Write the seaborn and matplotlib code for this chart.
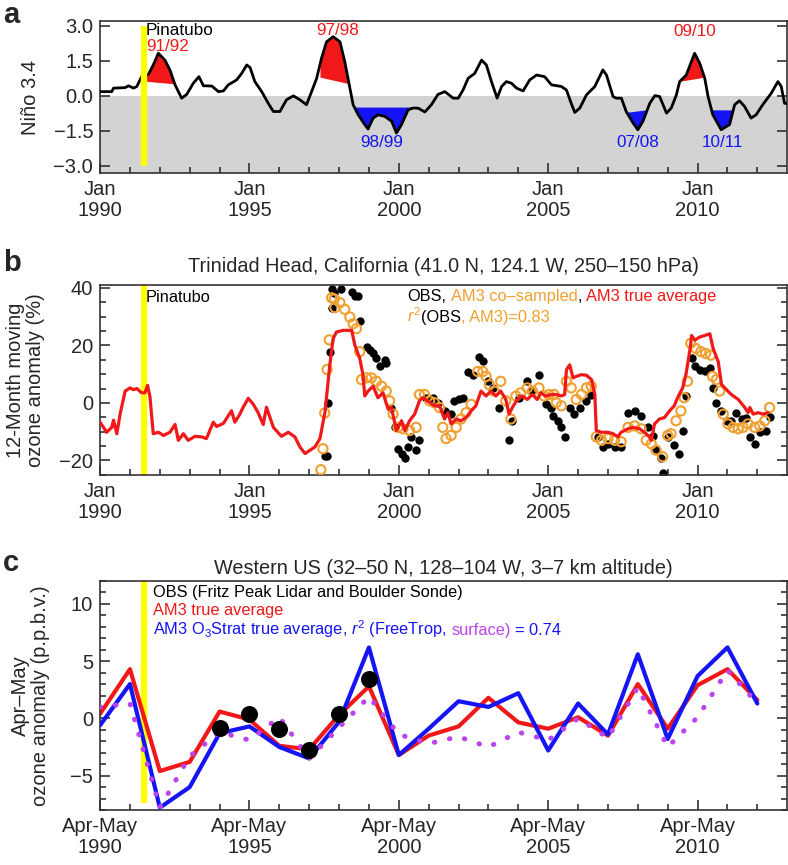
"""
ENSO / Pinatubo ozone anomalies - three stacked panels (a: Nino 3.4, b: Trinidad Head, c: Western US)
"""
import numpy as np
import pandas as pd
import matplotlib
matplotlib.use("Agg")
import matplotlib.pyplot as plt
import seaborn as sns

# ---------------- data ----------------
PINATUBO = 1991.47

# a. Nino 3.4 index
nino_year = [1990.00, 1990.39, 1990.45, 1990.84, 1990.95, 1991.12, 1991.23, 1991.39, 1991.55, 1991.62,
             1991.78, 1991.95, 1992.17, 1992.34, 1992.51, 1992.73, 1992.90, 1993.12, 1993.31, 1993.46,
             1993.74, 1993.96, 1994.13, 1994.29, 1994.57, 1994.74, 1994.91, 1995.02, 1995.18, 1995.41,
             1995.63, 1995.80, 1996.02, 1996.24, 1996.47, 1996.69, 1996.91, 1997.08, 1997.25, 1997.41,
             1997.58, 1997.80, 1998.03, 1998.19, 1998.33, 1998.47, 1998.64, 1998.86, 1998.97, 1999.14,
             1999.31, 1999.53, 1999.76, 1999.92, 2000.09, 2000.31, 2000.48, 2000.65, 2000.87, 2001.09,
             2001.31, 2001.54, 2001.82, 2001.99, 2002.15, 2002.32, 2002.54, 2002.77, 2002.93, 2003.10,
             2003.29, 2003.44, 2003.60, 2003.77, 2003.94, 2004.16, 2004.38, 2004.61, 2004.88, 2005.11,
             2005.44, 2005.61, 2005.77, 2005.89, 2006.06, 2006.28, 2006.56, 2006.72, 2006.83, 2006.95,
             2007.17, 2007.28, 2007.45, 2007.61, 2007.84, 2008.00, 2008.17, 2008.40, 2008.57, 2008.73,
             2008.96, 2009.12, 2009.29, 2009.40, 2009.62, 2009.90, 2010.07, 2010.24, 2010.35, 2010.51,
             2010.79, 2011.07, 2011.24, 2011.40, 2011.57, 2011.79, 2011.96, 2012.18, 2012.46, 2012.69,
             2012.80, 2012.91, 2012.98]
nino_val = [0.18, 0.18, 0.33, 0.35, 0.43, 0.33, 0.40, 0.82, 0.88, 0.92,
            1.32, 1.82, 1.53, 1.10, 0.47, -0.10, 0.06, 0.54, 0.82, 0.43,
            0.42, 0.18, 0.21, 0.47, 0.68, 0.96, 1.32, 1.21, 0.61, 0.18,
            -0.32, -0.67, -0.67, -0.17, 0.00, -0.17, -0.38, 0.18, 0.75, 1.60,
            2.31, 2.53, 2.31, 1.46, 0.54, -0.38, -0.81, -1.23, -1.42, -0.95,
            -0.81, -0.88, -1.09, -1.59, -1.23, -0.60, -0.52, -0.53, -0.69, -0.38,
            0.06, 0.18, -0.10, -0.10, 0.25, 0.75, 0.96, 1.53, 1.32, 0.61,
            -0.10, 0.40, 0.61, 0.54, 0.33, 0.21, 0.68, 0.89, 0.82, 0.47,
            0.40, 0.25, -0.32, -0.71, -0.52, 0.04, 0.40, 0.82, 1.11, 0.89,
            -0.03, -0.10, -0.10, -0.67, -1.16, -1.45, -1.09, -0.32, 0.01, -0.03,
            -0.74, -0.52, 0.04, 0.61, 0.89, 1.82, 1.40, 0.75, -0.03, -0.81,
            -1.45, -1.23, -0.38, -0.21, -0.45, -0.95, -0.81, -0.38, 0.10, 0.61,
            0.40, -0.32, -0.32]

# ENSO events: label, start, end, chord value at start, chord value at end, kind
event_label = ["91/92", "97/98", "98/99", "07/08", "09/10", "10/11"]
event_start = [1991.55, 1997.36, 1998.47, 2007.64, 2009.38, 2010.44]
event_end = [1992.45, 1998.33, 2000.70, 2008.28, 2010.24, 2011.22]
event_base0 = [0.62, 0.80, -0.48, -0.70, 0.62, -0.60]
event_base1 = [0.52, 0.52, -0.48, -0.60, 0.80, -0.60]
event_kind = ["nino", "nino", "nina", "nina", "nino", "nina"]
event_text_x = [1991.55, 1997.95, 1999.42, 2007.99, 2009.90, 2010.83]
event_text_y = [2.1, 2.8, -2.0, -2.0, 2.75, -2.0]

# b. Trinidad Head ozonesonde anomalies (%)
am3_year = [1990.00, 1990.22, 1990.39, 1990.45, 1990.56, 1990.67, 1990.84, 1991.00, 1991.12, 1991.23,
            1991.39, 1991.50, 1991.59, 1991.67, 1991.78, 1991.95, 1992.12, 1992.34, 1992.51, 1992.62,
            1992.79, 1992.95, 1993.18, 1993.40, 1993.56, 1993.79, 1993.90, 1994.13, 1994.40, 1994.51,
            1994.68, 1994.79, 1994.96, 1995.13, 1995.29, 1995.46, 1995.57, 1995.80, 1996.07, 1996.30,
            1996.52, 1996.69, 1996.86, 1997.19, 1997.36, 1997.53, 1997.69, 1997.80, 1997.91, 1998.14,
            1998.42, 1998.53, 1998.69, 1998.80, 1998.86, 1998.97, 1999.14, 1999.30, 1999.47, 1999.64,
            1999.75, 1999.92, 2000.09, 2000.20, 2000.36, 2000.53, 2000.69, 2000.80, 2000.97, 2001.19,
            2001.36, 2001.53, 2001.64, 2001.75, 2001.92, 2002.08, 2002.25, 2002.42, 2002.58, 2002.75,
            2002.92, 2003.08, 2003.25, 2003.41, 2003.58, 2003.69, 2003.80, 2003.97, 2004.13, 2004.30,
            2004.47, 2004.63, 2004.75, 2004.91, 2005.13, 2005.27, 2005.44, 2005.55, 2005.61, 2005.72,
            2005.83, 2005.94, 2006.11, 2006.28, 2006.45, 2006.56, 2006.61, 2006.78, 2007.00, 2007.17,
            2007.33, 2007.44, 2007.67, 2007.83, 2008.06, 2008.22, 2008.39, 2008.45, 2008.56, 2008.72,
            2008.89, 2009.06, 2009.22, 2009.33, 2009.50, 2009.61, 2009.75, 2009.80, 2009.91, 2010.07,
            2010.24, 2010.41, 2010.52, 2010.69, 2010.80, 2010.91, 2011.13, 2011.36, 2011.58, 2011.69,
            2011.75, 2011.86, 2012.03, 2012.19, 2012.36]
am3_val = [-6.7, -10.2, -8.5, -6.0, -10.7, -3.9, 4.1, 5.2, 4.6, 5.0,
           3.5, 3.5, 6.1, 2.1, -10.7, -10.2, -11.3, -10.2, -7.5, -13.0,
           -10.7, -13.0, -11.6, -11.8, -12.4, -6.7, -8.2, -7.1, -2.7, -6.7,
           -3.9, -1.5, 1.6, -0.5, -3.4, -7.5, -1.5, -8.5, -11.6, -10.2,
           -11.8, -15.3, -17.6, -15.3, -12.4, -3.0, 13.2, 22.3, 24.6, 25.2,
           25.2, 20.0, 15.5, 9.8, 2.4, 4.1, 5.8, 1.8, 3.5, -2.1,
           -1.6, -9.6, -6.2, -9.6, -6.2, -3.9, 0.7, 1.8, 0.7, -1.0,
           -1.0, -5.6, -3.4, -7.3, -5.6, -6.2, -5.1, -2.8, -1.0, 4.1,
           2.4, 4.1, 2.4, 4.1, 1.2, -3.9, -1.6, 1.2, 2.4, 1.2,
           2.9, 1.2, 3.5, 2.4, 2.9, 2.9, 2.4, 2.9, 11.5, 13.2,
           8.7, 9.2, 9.8, 9.6, 8.1, 2.9, -9.6, -10.2, -10.2, -10.7,
           -11.8, -10.2, -9.0, -8.5, -9.0, -10.2, -11.8, -13.0, -7.3, -5.6,
           -5.1, -2.8, -1.0, 1.8, 5.2, 9.8, 18.9, 23.4, 21.8, 22.9,
           23.4, 24.0, 18.9, 14.4, 6.4, 5.2, 2.9, 1.2, -1.6, -3.4,
           -1.6, -3.9, -3.4, -3.9, -3.4]

obs_year = [1997.52, 1997.59, 1997.64, 1997.69, 1997.75, 1997.77, 1997.84, 1998.08, 1998.42, 1998.53,
            1998.64, 1998.69, 1998.92, 1999.03, 1999.14, 1999.25, 1999.36, 1999.53, 1999.58, 1999.75,
            1999.86, 1999.97, 2000.09, 2000.20, 2000.31, 2000.42, 2000.58, 2000.69, 2000.92, 2001.14,
            2001.30, 2001.53, 2001.75, 2001.86, 2002.03, 2002.14, 2002.31, 2002.47, 2002.70, 2002.81,
            2002.97, 2003.14, 2003.36, 2003.69, 2003.80, 2004.02, 2004.30, 2004.47, 2004.69, 2004.91,
            2005.08, 2005.16, 2005.33, 2005.44, 2005.55, 2005.72, 2005.88, 2006.05, 2006.28, 2006.44,
            2006.66, 2006.83, 2007.00, 2007.22, 2007.44, 2007.67, 2007.89, 2008.11, 2008.33, 2008.50,
            2008.61, 2008.78, 2008.83, 2009.00, 2009.22, 2009.39, 2009.50, 2009.61, 2009.80, 2009.91,
            2010.07, 2010.24, 2010.41, 2010.52, 2010.63, 2010.80, 2010.97, 2011.13, 2011.30, 2011.47,
            2011.63, 2011.75, 2011.91, 2012.08, 2012.30, 2012.41]
obs_val = [-18.4, -18.5, 0.0, 17.6, 39.4, 32.8, 38.3, 39.4, 38.5, 37.1,
           37.1, 28.6, 19.5, 18.4, 17.2, 15.5, 12.7, 15.0, 13.8, -1.6,
           -8.5, -15.9, -17.6, -19.3, -15.3, -11.8, -16.4, -13.0, 1.8, 1.8,
           0.1, -2.8, -3.9, 0.7, 1.2, 1.8, 10.9, 9.8, 16.1, 14.4,
           7.5, 5.2, -1.6, -13.0, -6.2, 1.8, 7.5, 4.1, 9.8, -0.3,
           -1.6, -4.4, -6.2, -8.5, -11.8, -1.6, -3.9, -1.6, 0.7, 2.9,
           -11.8, -15.3, -14.2, -15.3, -15.3, -3.4, -2.8, -4.4, -8.5, -11.4,
           -15.9, -19.3, -24.4, -11.8, -14.7, -17.6, -9.6, 2.4, 15.5, 12.7,
           11.5, 11.2, 12.0, 5.2, 0.1, -2.8, -6.2, -6.2, -3.4, -5.6,
           -5.1, -11.8, -14.2, -10.2, -9.6, -4.8]

cos_year = [1997.39, 1997.46, 1997.52, 1997.60, 1997.67, 1997.75, 1997.84, 1997.86, 1998.03, 1998.19,
            1998.36, 1998.47, 1998.58, 1998.69, 1998.75, 1998.92, 1999.08, 1999.25, 1999.42, 1999.58,
            1999.69, 1999.81, 1999.97, 2000.14, 2000.36, 2000.58, 2000.69, 2000.86, 2001.03, 2001.19,
            2001.36, 2001.47, 2001.58, 2001.75, 2001.92, 2002.08, 2002.25, 2002.42, 2002.64, 2002.81,
            2002.92, 2003.03, 2003.19, 2003.41, 2003.58, 2003.75, 2003.92, 2004.08, 2004.30, 2004.47,
            2004.69, 2004.86, 2005.02, 2005.19, 2005.27, 2005.44, 2005.61, 2005.77, 2005.94, 2006.11,
            2006.28, 2006.44, 2006.61, 2006.78, 2007.00, 2007.22, 2007.44, 2007.67, 2007.89, 2008.11,
            2008.28, 2008.45, 2008.61, 2008.83, 2009.00, 2009.11, 2009.28, 2009.44, 2009.55, 2009.66,
            2009.77, 2009.94, 2010.11, 2010.27, 2010.44, 2010.50, 2010.63, 2010.74, 2010.86, 2011.02,
            2011.19, 2011.36, 2011.52, 2011.69, 2011.91, 2012.08, 2012.25, 2012.41]
cos_val = [-23.2, -15.9, -3.5, 11.6, 21.9, 36.5, 36.1, 33.1, 34.8, 32.5,
           29.8, 27.5, 25.8, 17.8, 8.1, 8.7, 8.7, 7.5, 5.8, 4.1,
           0.7, -3.9, -8.5, -9.0, -9.6, -8.5, 2.9, 2.9, 0.7, 0.1,
           -1.6, -8.5, -12.4, -11.3, -8.5, -5.6, -3.4, -0.5, 10.9, 10.9,
           9.2, 6.3, 4.1, 7.5, 0.7, -5.6, 2.4, 3.5, 5.2, 4.1,
           5.2, 2.4, 2.9, 2.9, 0.1, -1.0, 7.5, 5.2, 1.2, 2.9,
           5.2, 5.8, -11.8, -13.0, -12.4, -13.0, -13.5, -8.5, -8.0, -9.0,
           -13.0, -14.2, -16.4, -18.7, -11.3, -10.7, -6.2, -2.8, 1.8, 7.5,
           20.7, 18.9, 17.8, 17.2, 16.6, 9.2, 8.1, 4.1, -3.9, -7.3,
           -8.5, -9.0, -8.5, -7.3, -8.5, -8.0, -6.2, -1.6]

# c. Western US, Apr-May means (ppbv)
c_year = list(range(1990, 2013))
c_am3 = [0.4, 4.3, -4.6, -3.8, 0.6, -0.1, -2.4, -2.7, 0.3, 2.8, -3.2, -1.5, -0.7, 1.8, -0.35, -0.9,
         0.1, -1.5, 3.0, -0.9, 2.9, 4.3, 1.6]
c_strat = [-0.6, 3.0, -7.8, -6.0, -1.3, -0.7, -2.5, -3.5, -0.3, 6.2, -3.2, -0.9, 1.5, 1.0, 2.2, -2.8,
           1.3, -1.4, 5.6, -1.8, 3.7, 6.2, 1.3]
c_surface = [1.0, 1.3, -7.8, -3.3, -1.2, -1.9, 0.1, -3.5, -0.8, 1.9, -1.4, -2.2, -1.6, -2.5, -1.2, -1.9,
             0.0, -1.7, 2.7, -2.5, 0.1, 4.2, 1.3]
c_obs_year = [1994, 1995, 1996, 1997, 1998, 1999]
c_obs = [-0.8, 0.4, -0.9, -2.8, 0.4, 3.4]

major_years = [1990, 1995, 2000, 2005, 2010]

# ---------------- style ----------------
RED = "#f01818"
BLUE = "#1414f5"
ORANGE = "#f0a030"
MAGENTA = "#bb44ee"
YELLOW = "#ffff00"
FS_TICK = 14.5
FS_TITLE = 14.3
FS_TXT = 11.8

sns.set_theme(style="ticks")
plt.rcParams["font.family"] = ["Liberation Sans", "DejaVu Sans"]
plt.rcParams["mathtext.fontset"] = "custom"
plt.rcParams["mathtext.rm"] = "Liberation Sans"
plt.rcParams["mathtext.it"] = "Liberation Sans:italic"
plt.rcParams["mathtext.default"] = "regular"
plt.rcParams["axes.unicode_minus"] = True

fig = plt.figure(figsize=(7.88, 8.65), dpi=100)
ax_a = fig.add_axes([0.127, 0.800, 0.872, 0.1757])
ax_b = fig.add_axes([0.127, 0.451, 0.872, 0.2197])
ax_c = fig.add_axes([0.127, 0.0636, 0.872, 0.2647])


def style_axis(ax, prefix, ymajor, yminor=None):
    ax.set_xlim(1990, 2013)
    ax.set_xticks(major_years)
    ax.set_xticklabels([f"{prefix}\n{y}" for y in major_years], linespacing=1.15)
    ax.set_xticks(range(1990, 2013), minor=True)
    ax.set_yticks(ymajor)
    if yminor is not None:
        ax.set_yticks(yminor, minor=True)
    ax.tick_params(which="both", direction="in", top=False, right=True, labelsize=FS_TICK,
                   color="#222222", width=1.1)
    ax.tick_params(which="major", length=7, pad=5)
    ax.tick_params(which="minor", length=4)
    for s in ax.spines.values():
        s.set_linewidth(1.2)
        s.set_color("#333333")
    ax.grid(False)


# ---------------- panel a ----------------
nino = pd.DataFrame({"year": nino_year, "val": nino_val})
ax_a.set_ylim(-3.3, 3.2)
ax_a.axhspan(-3.3, 0, color="#d3d3d3", lw=0, zorder=0)
yr = np.array(nino_year)
nv = np.array(nino_val)
for lab, s, e, b0, b1, kind, tx, ty in zip(event_label, event_start, event_end, event_base0,
                                           event_base1, event_kind, event_text_x, event_text_y):
    inside = (yr > s) & (yr < e)
    xs = np.concatenate([[s], yr[inside], [e]])
    ys = np.concatenate([[np.interp(s, yr, nv)], nv[inside], [np.interp(e, yr, nv)]])
    base = b0 + (b1 - b0) * (xs - s) / (e - s)
    col = RED if kind == "nino" else BLUE
    where = ys >= base if kind == "nino" else ys <= base
    ax_a.fill_between(xs, ys, base, where=where, interpolate=True, color=col, lw=0, zorder=2)
    ax_a.text(tx, ty, lab, color=col, fontsize=FS_TXT + 0.5,
              ha="left" if lab == "91/92" else "center", va="center", zorder=5)
sns.lineplot(data=nino, x="year", y="val", ax=ax_a, color="black", linewidth=2.0, zorder=3)
ax_a.vlines(PINATUBO, -3.0, 3.0, color=YELLOW, linewidth=4.6, zorder=4)
ax_a.text(PINATUBO + 0.05, 2.78, "Pinatubo", fontsize=FS_TXT + 0.5, color="black",
          ha="left", va="center", zorder=5)
style_axis(ax_a, "Jan", [-3.0, -1.5, 0.0, 1.5, 3.0])
ax_a.set_yticklabels(["\u22123.0", "\u22121.5", "0.0", "1.5", "3.0"])
ax_a.set_ylabel("Niño 3.4", fontsize=FS_TICK)
ax_a.yaxis.set_label_coords(-0.088, 0.5)

# ---------------- panel b ----------------
ax_b.set_ylim(-25, 41)
ax_b.vlines(PINATUBO, -25, 41, color=YELLOW, linewidth=4.6, zorder=1)
sns.scatterplot(x=obs_year, y=obs_val, ax=ax_b, color="black", s=36, linewidth=0, zorder=2)
sns.scatterplot(x=cos_year, y=cos_val, ax=ax_b, color=ORANGE, s=44, zorder=3)
ring = ax_b.collections[-1]
ring.set_facecolor("none")
ring.set_edgecolor(ORANGE)
ring.set_linewidth(1.5)
sns.lineplot(x=am3_year, y=am3_val, ax=ax_b, color=RED, linewidth=2.3, zorder=4)
ax_b.text(PINATUBO + 0.05, 36.5, "Pinatubo", fontsize=FS_TXT, color="black",
          ha="left", va="center", zorder=5)
style_axis(ax_b, "Jan", [-20, 0, 20, 40], list(range(-25, 41, 5)))
ax_b.set_ylabel("12-Month moving\nozone anomaly (%)", fontsize=FS_TICK, linespacing=1.05)
ax_b.yaxis.set_label_coords(-0.080, 0.5)
ax_b.set_title("Trinidad Head, California (41.0 N, 124.1 W, 250–150 hPa)",
               fontsize=FS_TITLE, pad=9)

# ---------------- panel c ----------------
ax_c.set_ylim(-8, 12)
ax_c.vlines(PINATUBO, -7.4, 12, color=YELLOW, linewidth=4.6, zorder=1)
sns.lineplot(x=c_year, y=c_am3, ax=ax_c, color=RED, linewidth=3.0, zorder=2)
sns.lineplot(x=c_year, y=c_strat, ax=ax_c, color=BLUE, linewidth=3.0, zorder=3)
sns.lineplot(x=c_year, y=c_surface, ax=ax_c, color=MAGENTA, linewidth=3.6, zorder=4,
             linestyle=(0, (0.1, 3.0)), dash_capstyle="round")
sns.scatterplot(x=c_obs_year, y=c_obs, ax=ax_c, color="black", s=150, linewidth=0, zorder=5)
style_axis(ax_c, "Apr-May", [-5, 0, 5, 10], list(range(-8, 13)))
ax_c.set_ylabel("Apr–May\nozone anomaly (p.p.b.v.)", fontsize=FS_TICK, linespacing=1.05)
ax_c.yaxis.set_label_coords(-0.073, 0.5)
ax_c.set_title("Western US (32–50 N, 128–104 W, 3–7 km altitude)", fontsize=FS_TITLE, pad=5)

for ax in (ax_a, ax_b, ax_c):
    ax.set_xlabel("")

# panel letters
for lab, yy in zip(["a", "b", "c"], [0.983, 0.696, 0.349]):
    fig.text(0.004, yy, lab, fontsize=21, fontweight="bold", va="center", ha="left")

# ---------------- multi-colour annotation lines ----------------
fig.canvas.draw()
rend = fig.canvas.get_renderer()


def text_w(ax, s, fs):
    t = ax.text(0, 0, s, fontsize=fs, transform=ax.transAxes)
    w = t.get_window_extent(renderer=rend).width
    t.remove()
    return w


def color_line(ax, x, y, parts, fs):
    space = text_w(ax, "a a", fs) - text_w(ax, "aa", fs)
    inv = ax.transAxes.inverted()
    cur = x
    for s, c, gap in parts:
        if gap:
            px = ax.transAxes.transform((cur, y))[0] + space
            cur = inv.transform((px, 0))[0]
        t = ax.text(cur, y, s, color=c, fontsize=fs, transform=ax.transAxes,
                    ha="left", va="baseline", zorder=6)
        bb = t.get_window_extent(renderer=rend)
        cur = inv.transform((bb.x1, bb.y0))[0]


color_line(ax_b, 0.447, 0.915,
           [("OBS,", "black", False), ("AM3 co–sampled", ORANGE, True), (",", "black", False),
            ("AM3 true average", RED, True)], FS_TXT)
color_line(ax_b, 0.447, 0.805,
           [(r"$\mathit{r}^2$", ORANGE, False), ("(OBS", "black", False),
            (", AM3)=0.83", ORANGE, False)], FS_TXT)

color_line(ax_c, 0.077, 0.932,
           [("OBS (Fritz Peak Lidar and Boulder Sonde)", "black", False)], FS_TXT)
color_line(ax_c, 0.077, 0.852, [("AM3 true average", RED, False)], FS_TXT)
color_line(ax_c, 0.077, 0.764,
           [(r"AM3 O$_3$Strat true average, $\mathit{r}^2$ (FreeTrop,", BLUE, False),
            ("surface)", MAGENTA, True), ("= 0.74", BLUE, True)], FS_TXT)

plt.savefig("out.png", dpi=100)
plt.close()
